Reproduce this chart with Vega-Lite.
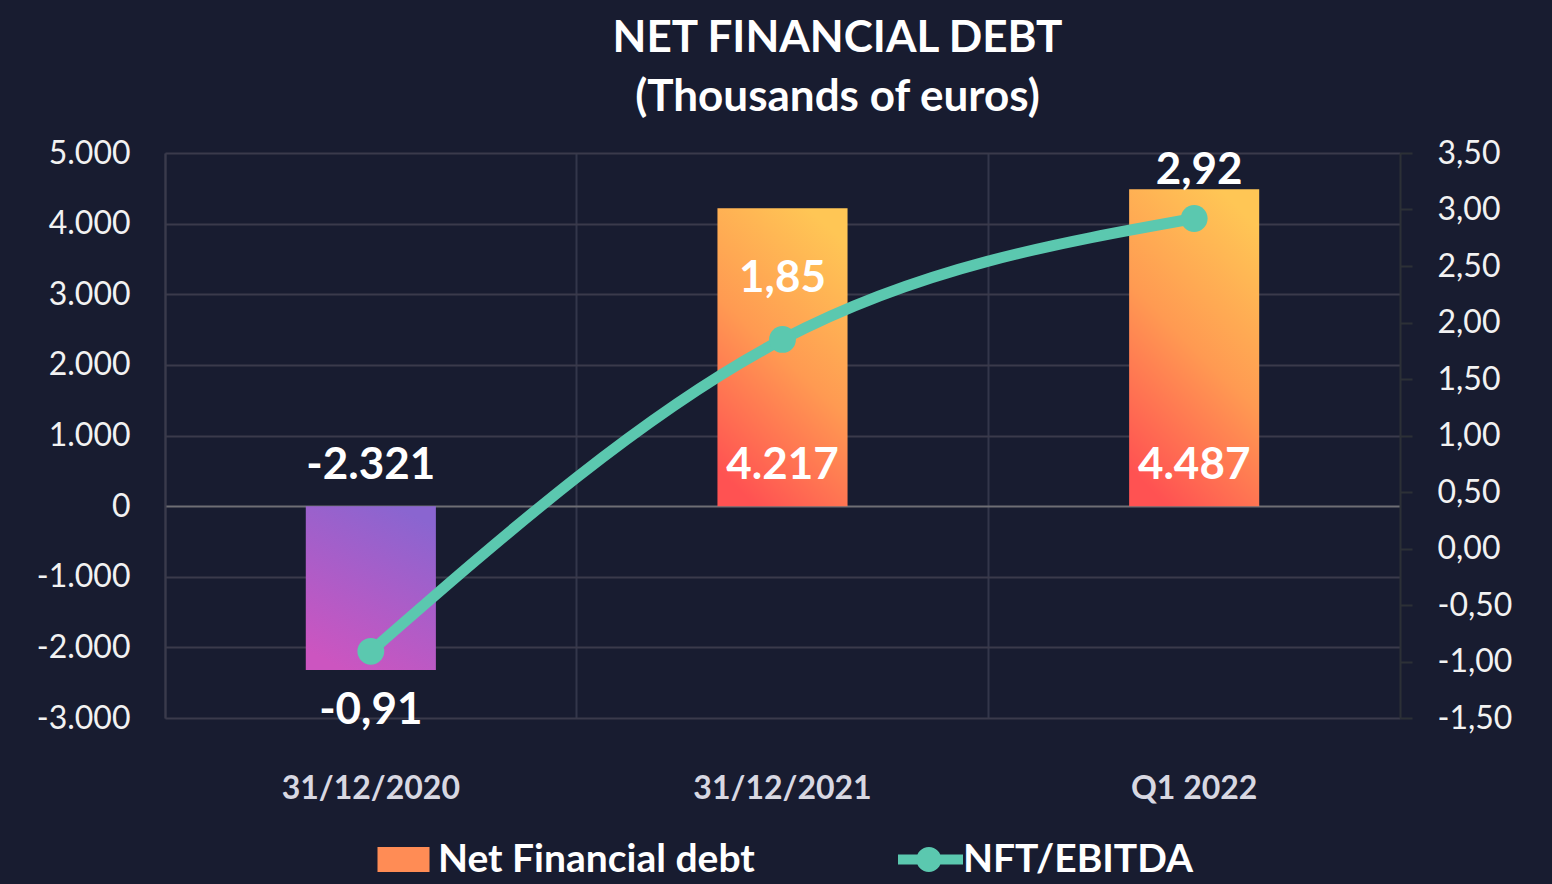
{
  "$schema": "https://vega.github.io/schema/vega-lite/v6.json",
  "width": 1235,
  "height": 565,
  "autosize": "none",
  "padding": {"left": 165, "top": 153, "right": 152, "bottom": 166},
  "background": "#181c30",
  "config": {
    "locale": {"number": {"decimal": ",", "thousands": ".", "grouping": [3], "currency": ["", " €"], "minus": "-"}},
    "font": "Lato",
    "view": {"stroke": null}
  },
  "title": {
    "text": ["NET FINANCIAL DEBT", "(Thousands of euros)"],
    "fontSize": 44,
    "fontWeight": "bold",
    "font": "Lato",
    "color": "#ffffff",
    "lineHeight": 59,
    "anchor": "middle",
    "frame": "group",
    "dx": 55,
    "offset": 17
  },
  "data": {
    "values": [
      {"period": "31/12/2020", "nfd": -2321, "ratio": -0.91},
      {"period": "31/12/2021", "nfd": 4217, "ratio": 1.85},
      {"period": "Q1 2022", "nfd": 4487, "ratio": 2.92}
    ]
  },
  "layer": [
    {
      "encoding": {
        "x": {
          "field": "period", "type": "nominal", "sort": ["31/12/2020", "31/12/2021", "Q1 2022"],
          "scale": {"paddingInner": 0, "paddingOuter": 0},
          "axis": {
            "title": null, "orient": "bottom", "bandPosition": 0, "grid": true,
            "gridColor": "#33364a", "gridWidth": 2, "ticks": false, "tickSize": 0, "domain": false,
            "labelPadding": 55, "labelFontSize": 32, "labelFontWeight": "bold",
            "labelColor": "#d8d8e2", "labelAngle": 0, "labelFont": "Lato"
          }
        }
      },
      "layer": [
        {
          "transform": [{"filter": "datum.nfd >= 0"}],
          "mark": {
            "type": "bar", "width": {"band": 0.316},
            "color": {"gradient": "linear", "x1": 0.7, "y1": 0, "x2": 0.3, "y2": 1,
              "stops": [{"offset": 0, "color": "#ffc655"}, {"offset": 0.5, "color": "#ff9a52"}, {"offset": 1, "color": "#ff5252"}]}
          },
          "encoding": {
            "y": {
              "field": "nfd", "type": "quantitative",
              "scale": {"domain": [-3000, 5000], "nice": false, "zero": false},
              "axis": {
                "orient": "left", "title": null,
                "values": [-3000, -2500, -2000, -1500, -1000, -500, 0, 500, 1000, 1500, 2000, 2500, 3000, 3500, 4000, 4500, 5000],
                "format": ",.0f",
                "labelExpr": "datum.value % 1000 === 0 ? datum.label : ''",
                "labelOverlap": false,
                "grid": true,
                "gridColor": {"condition": [{"test": "datum.value === 0", "value": "#6e6e74"}, {"test": "datum.value % 1000 === 0", "value": "#3a3a4b"}], "value": "#2c2f41"},
                "gridWidth": {"condition": {"test": "datum.value % 1000 === 0", "value": 2}, "value": 1.5},
                "domain": true, "domainColor": "#3a3a4b", "domainWidth": 2,
                "ticks": false, "tickSize": 0,
                "labelPadding": 35, "labelFontSize": 32, "labelColor": "#f2f2f2", "labelFont": "Lato"
              }
            }
          }
        },
        {
          "transform": [{"filter": "datum.nfd < 0"}],
          "mark": {
            "type": "bar", "width": {"band": 0.316},
            "color": {"gradient": "linear", "x1": 0.7, "y1": 0, "x2": 0.3, "y2": 1,
              "stops": [{"offset": 0, "color": "#8a65d0"}, {"offset": 1, "color": "#cc55c0"}]}
          },
          "encoding": {"y": {"field": "nfd", "type": "quantitative"}}
        },
        {
          "mark": {"type": "text", "dy": -40, "fontSize": 44, "fontWeight": "bold", "color": "#ffffff", "baseline": "middle", "font": "Lato"},
          "encoding": {
            "y": {"datum": 0, "type": "quantitative"},
            "text": {"field": "nfd", "type": "quantitative", "format": ",.0f"}
          }
        }
      ]
    },
    {
      "encoding": {
        "x": {
          "field": "period", "type": "nominal", "sort": ["31/12/2020", "31/12/2021", "Q1 2022"],
          "scale": {"paddingInner": 0, "paddingOuter": 0},
          "axis": {
            "title": null, "orient": "bottom", "bandPosition": 0, "grid": true,
            "gridColor": "#33364a", "gridWidth": 2, "ticks": false, "tickSize": 0, "domain": false,
            "labelPadding": 55, "labelFontSize": 32, "labelFontWeight": "bold",
            "labelColor": "#d8d8e2", "labelAngle": 0, "labelFont": "Lato"
          }
        }
      },
      "layer": [
        {
          "mark": {"type": "line", "color": "#5bc8af", "strokeWidth": 11, "interpolate": "monotone"},
          "encoding": {
            "y": {
              "field": "ratio", "type": "quantitative",
              "scale": {"domain": [-1.5, 3.5], "nice": false, "zero": false},
              "axis": {
                "orient": "right", "title": null,
                "values": [-1.5, -1, -0.5, 0, 0.5, 1, 1.5, 2, 2.5, 3, 3.5],
                "format": ".2f", "grid": false,
                "domain": true, "domainColor": "#2c3036", "domainWidth": 2,
                "ticks": true, "tickColor": "#2c3036", "tickSize": 12, "tickWidth": 2,
                "labelPadding": 25, "labelFontSize": 32, "labelColor": "#f2f2f2", "labelFont": "Lato"
              }
            }
          }
        },
        {
          "mark": {"type": "point", "filled": true, "size": 720, "color": "#5bc8af", "opacity": 1},
          "encoding": {"y": {"field": "ratio", "type": "quantitative"}}
        },
        {
          "transform": [{"filter": "datum.ratio < 0"}],
          "mark": {"type": "text", "dy": 60, "fontSize": 44, "fontWeight": "bold", "color": "#ffffff", "baseline": "middle", "font": "Lato"},
          "encoding": {
            "y": {"field": "ratio", "type": "quantitative"},
            "text": {"field": "ratio", "type": "quantitative", "format": ".2f"}
          }
        },
        {
          "transform": [{"filter": "datum.ratio >= 0 && datum.ratio < 2.5"}],
          "mark": {"type": "text", "dy": -60, "fontSize": 44, "fontWeight": "bold", "color": "#ffffff", "baseline": "middle", "font": "Lato"},
          "encoding": {
            "y": {"field": "ratio", "type": "quantitative"},
            "text": {"field": "ratio", "type": "quantitative", "format": ".2f"}
          }
        },
        {
          "transform": [{"filter": "datum.ratio >= 2.5"}],
          "mark": {"type": "text", "dy": -48, "dx": 5, "fontSize": 44, "fontWeight": "bold", "color": "#ffffff", "baseline": "middle", "font": "Lato"},
          "encoding": {
            "y": {"field": "ratio", "type": "quantitative"},
            "text": {"field": "ratio", "type": "quantitative", "format": ".2f"}
          }
        }
      ]
    },
    {
      "data": {"values": [{"series": "Net Financial debt"}]},
      "mark": {"type": "point", "filled": true, "opacity": 0, "color": "#ff8c55"},
      "encoding": {
        "shape": {
          "field": "series", "type": "nominal",
          "scale": {"domain": ["Net Financial debt"], "range": ["M-0.8,-0.385H0.8V0.385H-0.8Z"]},
          "legend": {
            "title": null, "orient": "none", "legendX": 206, "legendY": 674,
            "symbolSize": 4225, "symbolOpacity": 1, "symbolStrokeWidth": 0,
            "labelFontSize": 39, "labelFontWeight": "bold", "labelColor": "#ffffff", "labelFont": "Lato",
            "labelOffset": 2, "labelLimit": 600,
            "encode": {
              "symbols": {
                "update": {
                  "fill": {"value": {"gradient": "linear", "x1": 1, "y1": 0, "x2": 0, "y2": 1,
                    "stops": [{"offset": 0, "color": "#ffc655"}, {"offset": 1, "color": "#ff5252"}]}}
                }
              }
            }
          }
        }
      }
    },
    {
      "data": {"values": [{"series2": "NFT/EBITDA"}]},
      "mark": {"type": "point", "filled": true, "opacity": 0, "color": "#5bc8af"},
      "encoding": {
        "shape": {
          "field": "series2", "type": "nominal",
          "scale": {"domain": ["NFT/EBITDA"], "range": ["M-1,-0.154H1V0.154H-1Z M0.335,0A0.385,0.385 0 1,1 -0.435,0A0.385,0.385 0 1,1 0.335,0Z"]},
          "legend": {
            "title": null, "orient": "none", "legendX": 733, "legendY": 674,
            "symbolSize": 4225, "symbolOpacity": 1, "symbolStrokeWidth": 0,
            "labelFontSize": 39, "labelFontWeight": "bold", "labelColor": "#ffffff", "labelFont": "Lato",
            "labelOffset": 0, "labelLimit": 600
          }
        }
      }
    }
  ],
  "resolve": {"scale": {"y": "independent", "shape": "independent"}}
}
